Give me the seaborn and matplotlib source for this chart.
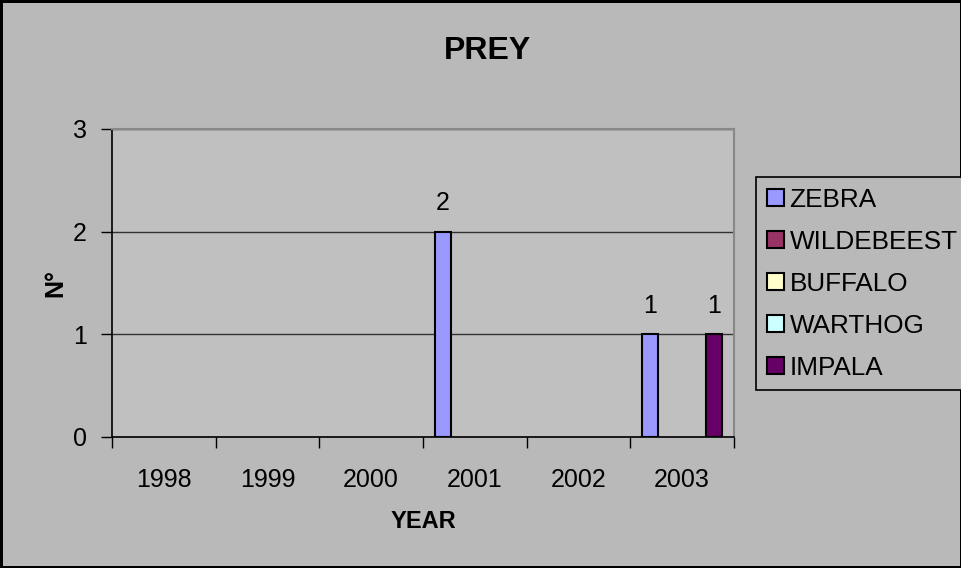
import matplotlib
matplotlib.use("Agg")
import matplotlib.pyplot as plt
import seaborn as sns
import pandas as pd
from matplotlib.patches import Patch

# Prey counts per year
years = ["1998", "1999", "2000", "2001", "2002", "2003"]
species = ["ZEBRA", "WILDEBEEST", "BUFFALO", "WARTHOG", "IMPALA"]
zebra = [0, 0, 0, 2, 0, 1]
wildebeest = [0, 0, 0, 0, 0, 0]
buffalo = [0, 0, 0, 0, 0, 0]
warthog = [0, 0, 0, 0, 0, 0]
impala = [0, 0, 0, 0, 0, 1]
colors = ["#9999FF", "#993366", "#FFFFCC", "#CCFFFF", "#660066"]

series = [zebra, wildebeest, buffalo, warthog, impala]
rows = []
for name, vals in zip(species, series):
    for y, v in zip(years, vals):
        rows.append({"year": y, "species": name, "count": v})
df = pd.DataFrame(rows)

sns.set_theme(style="white")
plt.rcParams["font.family"] = ["Liberation Sans", "DejaVu Sans"]

W, H = 962, 568
outer_bg = "#b9b9b9"
plot_bg = "#c0c0c0"

fig = plt.figure(figsize=(W / 100, H / 100), dpi=100, facecolor=outer_bg,
                 edgecolor="black", linewidth=2.5)
ax = fig.add_axes([112 / W, 1 - 437 / H, (734 - 112) / W, (437 - 129) / H])
ax.set_facecolor(plot_bg)

sns.barplot(data=df, x="year", y="count", hue="species", hue_order=species,
            order=years, palette=colors, width=5 / 6.5, gap=0,
            edgecolor="black", linewidth=1.5, saturation=1, legend=False, ax=ax,
            errorbar=None)

# value labels on non-zero bars only; empty bars stay hidden
for cont in ax.containers:
    vals = cont.datavalues
    for patch, v in zip(cont.patches, vals):
        if v == 0:
            patch.set_visible(False)
    labels = [f"{int(v)}" if v > 0 else "" for v in vals]
    ax.bar_label(cont, labels=labels, padding=12, fontsize=18, color="black")

ax.set_ylim(0, 3)
ax.set_yticks([0, 1, 2, 3])
ax.set_xlim(-0.5, len(years) - 0.5)
ax.yaxis.grid(True, color="#333333", linewidth=1)
ax.set_axisbelow(True)

for s in ["left", "bottom"]:
    ax.spines[s].set_color("black")
    ax.spines[s].set_linewidth(1.2)
for s in ["top", "right"]:
    ax.spines[s].set_color("#888888")
    ax.spines[s].set_linewidth(1.5)

ax.tick_params(axis="y", which="major", length=8, width=1, color="black",
               direction="out", left=True, labelsize=18, pad=10, labelcolor="black")
ax.tick_params(axis="x", which="major", length=0, labelsize=18, pad=22,
               labelcolor="black")
ax.set_xticks([i - 0.5 for i in range(len(years) + 1)], minor=True)
ax.tick_params(axis="x", which="minor", length=8, width=1, color="black",
               direction="out", bottom=True)
ax.set_xlabel("")
ax.set_ylabel("")

fig.text(488 / W, 1 - 51 / H, "PREY", ha="center", va="center",
         fontsize=23, fontweight="bold", color="black")
fig.text(423 / W, 1 - 522 / H, "YEAR", ha="center", va="center",
         fontsize=17, fontweight="bold", color="black")
fig.text(55 / W, 1 - 283 / H, "N°", ha="center", va="center", rotation=90,
         fontsize=18, fontweight="bold", color="black")

handles = [Patch(facecolor=c, edgecolor="black", linewidth=1.5) for c in colors]
leg = fig.legend(handles, species, loc="upper left",
                 bbox_to_anchor=(756 / W, 1 - 177 / H),
                 bbox_transform=fig.transFigure, frameon=True, fancybox=False,
                 fontsize=18.8, handlelength=0.65, handleheight=0.65,
                 handletextpad=0.22, labelspacing=0.69, borderpad=0.41,
                 borderaxespad=0, shadow=False, labelcolor="black")
frame = leg.get_frame()
frame.set_facecolor(outer_bg)
frame.set_edgecolor("black")
frame.set_linewidth(1.2)
frame.set_alpha(1)

fig.savefig("out.png", dpi=100, facecolor=fig.get_facecolor(),
            edgecolor=fig.get_edgecolor())
